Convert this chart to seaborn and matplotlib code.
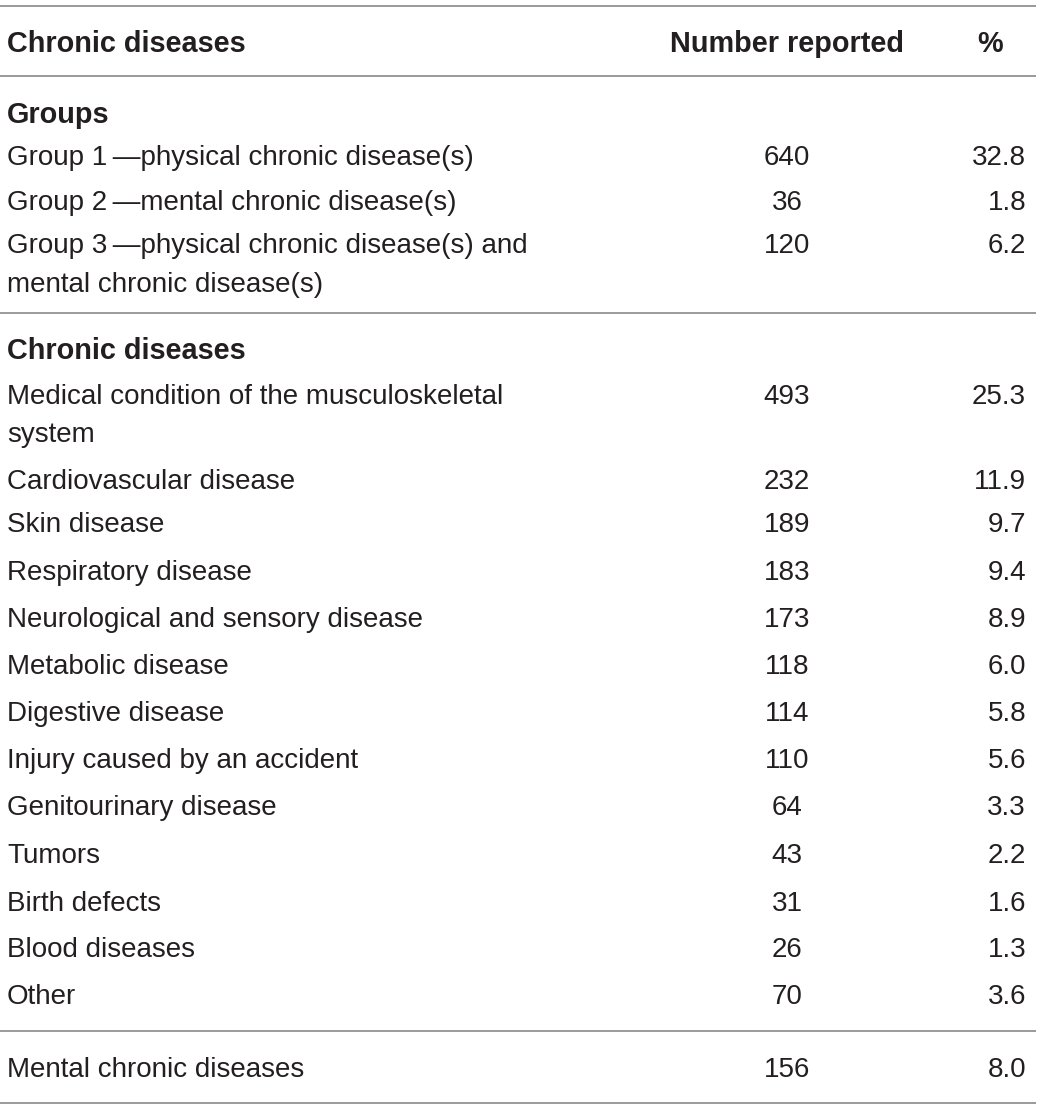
import matplotlib
matplotlib.use("Agg")
import matplotlib.pyplot as plt
import seaborn as sns

# ---- data ----
header = ["Chronic diseases", "Number reported", "%"]

section1_title = "Groups"
group_labels = [
    "Group 1\u2009\u2014physical chronic disease(s)",
    "Group 2\u2009\u2014mental chronic disease(s)",
    "Group 3\u2009\u2014physical chronic disease(s) and\nmental chronic disease(s)",
]
group_counts = [640, 36, 120]
group_pcts = [32.8, 1.8, 6.2]

section2_title = "Chronic diseases"
disease_labels = [
    "Medical condition of the musculoskeletal\nsystem",
    "Cardiovascular disease",
    "Skin disease",
    "Respiratory disease",
    "Neurological and sensory disease",
    "Metabolic disease",
    "Digestive disease",
    "Injury caused by an accident",
    "Genitourinary disease",
    "Tumors",
    "Birth defects",
    "Blood diseases",
    "Other",
]
disease_counts = [493, 232, 189, 183, 173, 118, 114, 110, 64, 43, 31, 26, 70]
disease_pcts = [25.3, 11.9, 9.7, 9.4, 8.9, 6.0, 5.8, 5.6, 3.3, 2.2, 1.6, 1.3, 3.6]

mental_label = "Mental chronic diseases"
mental_count = 156
mental_pct = 8.0

# ---- style ----
sns.set_theme(style="white")
plt.rcParams["font.family"] = ["Liberation Sans", "DejaVu Sans"]

W, H = 1040, 1107
fig = plt.figure(figsize=(W / 100, H / 100), dpi=100)
ax = fig.add_axes([0, 0, 1, 1])
ax.set_xlim(0, W)
ax.set_ylim(H, 0)
ax.axis("off")

TXT = "#231f20"
RULE = "#9a9a9a"
FS = 20.0
FS_B = 20.8
X_LABEL = 7
X_NUM = 787
X_PCT = 1026
X_PCT_HEAD = 990
LINE_GAP = 38.5

def rule(y):
    ax.plot([0, 1036], [y, y], color=RULE, lw=1.4, solid_capstyle="butt")

def row(y, label, count=None, pct=None, bold=False):
    lines = label.split("\n")
    for i, ln in enumerate(lines):
        ax.text(X_LABEL, y + i * LINE_GAP, ln, fontsize=FS_B if bold else FS, color=TXT,
                fontweight="bold" if bold else "normal", va="baseline", ha="left")
    if count is not None:
        ax.text(X_NUM, y, f"{count}", fontsize=FS, color=TXT, va="baseline", ha="center")
    if pct is not None:
        ax.text(X_PCT, y, f"{pct:.1f}", fontsize=FS, color=TXT, va="baseline", ha="right")

# header
rule(6)
ax.text(X_LABEL, 52, header[0], fontsize=FS_B, fontweight="bold", color=TXT, va="baseline")
ax.text(X_NUM, 52, header[1], fontsize=FS_B, fontweight="bold", color=TXT, va="baseline", ha="center")
ax.text(X_PCT_HEAD, 52, header[2], fontsize=FS_B, fontweight="bold", color=TXT, va="baseline", ha="center")
rule(76)

# section 1
row(123, section1_title, bold=True)
g_base = [165, 210, 253]
for y, lab, c, p in zip(g_base, group_labels, group_counts, group_pcts):
    row(y, lab, c, p)
rule(313)

# section 2
row(359, section2_title, bold=True)
d_base = [404, 489, 532, 580, 627, 674, 721, 768, 815, 863, 911, 957, 1004]
for y, lab, c, p in zip(d_base, disease_labels, disease_counts, disease_pcts):
    row(y, lab, c, p)
rule(1031)

row(1077, mental_label, mental_count, mental_pct)
rule(1103)

fig.savefig("out.png", dpi=100, facecolor="white")
